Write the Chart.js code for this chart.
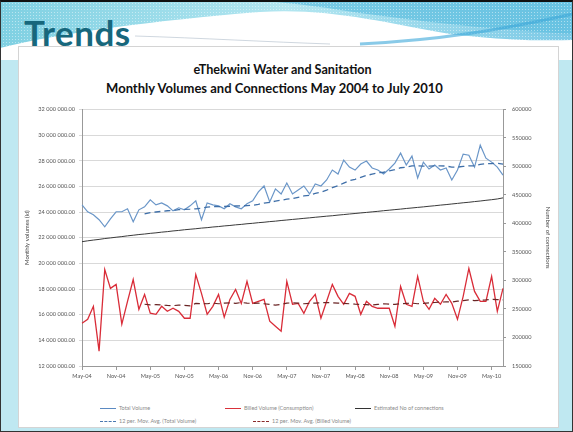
<!DOCTYPE html>
<html><head><meta charset="utf-8">
<script src="https://cdn.jsdelivr.net/npm/chart.js@4.4.0/dist/chart.umd.min.js"></script>
<style>
html,body{margin:0;padding:0;}
body{width:573px;height:432px;position:relative;overflow:hidden;background:#bfe8f1;font-family:Lato,"Open Sans",sans-serif;}
#hdr{position:absolute;left:0;top:0;}
#frame{position:absolute;left:0;top:0;border:1px solid #333;border-top:2px solid #111;box-sizing:border-box;width:573px;height:432px;pointer-events:none;}
#panel{position:absolute;left:18px;top:46px;width:541px;height:382px;background:#fff;border:1px solid #d4d4d4;box-sizing:border-box;}
#trends{position:absolute;left:24px;top:11px;font:bold 35px Lato,"Open Sans",sans-serif;color:#17677c;letter-spacing:0.5px;}
.t{position:absolute;width:541px;text-align:center;font-weight:bold;color:#111;}
#t1{left:12px;top:62px;font-size:12.6px;}
#t2{left:4px;top:80px;font-size:13px;}
#wrap{position:absolute;left:18px;top:100px;width:540px;height:292px;}
.lg{position:absolute;font-size:5.5px;color:#8a8a8a;white-space:nowrap;}
.lg i{display:inline-block;width:16px;height:0;border-top:1px solid;vertical-align:middle;margin-right:3px;}
</style></head><body>
<svg id="hdr" width="573" height="60">
<defs>
<linearGradient id="g1" x1="0" x2="1" y1="0" y2="0"><stop offset="0" stop-color="#7fd0e2"/><stop offset="0.5" stop-color="#b3e6f0"/><stop offset="1" stop-color="#7cc9e6"/></linearGradient>
<pattern id="dots" width="3" height="3" patternUnits="userSpaceOnUse"><rect width="3" height="3" fill="none"/><rect width="1" height="1" fill="#ffffff" opacity="0.45"/></pattern>
</defs>
<rect width="573" height="60" fill="url(#g1)"/>
<path d="M240,0 L573,0 L573,34 C500,30 420,22 340,10 C300,4 270,1 240,0 Z" fill="#5fbfe0" opacity="0.7"/>
<rect width="573" height="60" fill="url(#dots)"/>
<path d="M0,48 C60,33 160,20 260,12 C330,8 380,22 450,34 C500,40 540,41 573,40 L573,60 L0,60 Z" fill="#ffffff"/>
<path d="M360,44 C440,40 500,30 573,14" stroke="#3aa7d9" stroke-width="3" fill="none" opacity="0.6"/>
<path d="M135,36 C200,38 270,42 330,44" stroke="#9ab" stroke-width="0.8" fill="none" opacity="0.6"/>
</svg>
<div id="panel"></div>
<div id="trends">Trends</div>
<div class="t" id="t1">eThekwini Water and Sanitation</div>
<div class="t" id="t2">Monthly Volumes and Connections May 2004 to July 2010</div>
<div id="wrap"><canvas id="c" width="540" height="292"></canvas></div>
<div class="lg" style="left:100px;top:405px"><i style="border-color:#5b8ac2"></i>Total Volume</div>
<div class="lg" style="left:225px;top:405px"><i style="border-color:#d9313a"></i>Billed Volume (Consumption)</div>
<div class="lg" style="left:355px;top:405px"><i style="border-color:#333"></i>Estimated No of connections</div>
<div class="lg" style="left:100px;top:418px"><i style="border-color:#4a78b0;border-top-style:dashed"></i>12 per. Mov. Avg. (Total Volume)</div>
<div class="lg" style="left:253px;top:418px"><i style="border-color:#8a2a2a;border-top-style:dashed"></i>12 per. Mov. Avg. (Billed Volume)</div>
<div id="frame"></div>
<script>
const months = [
 "May-04","Jun-04","Jul-04","Aug-04","Sep-04","Oct-04","Nov-04","Dec-04",
 "Jan-05","Feb-05","Mar-05","Apr-05","May-05","Jun-05","Jul-05","Aug-05","Sep-05","Oct-05","Nov-05","Dec-05",
 "Jan-06","Feb-06","Mar-06","Apr-06","May-06","Jun-06","Jul-06","Aug-06","Sep-06","Oct-06","Nov-06","Dec-06",
 "Jan-07","Feb-07","Mar-07","Apr-07","May-07","Jun-07","Jul-07","Aug-07","Sep-07","Oct-07","Nov-07","Dec-07",
 "Jan-08","Feb-08","Mar-08","Apr-08","May-08","Jun-08","Jul-08","Aug-08","Sep-08","Oct-08","Nov-08","Dec-08",
 "Jan-09","Feb-09","Mar-09","Apr-09","May-09","Jun-09","Jul-09","Aug-09","Sep-09","Oct-09","Nov-09","Dec-09",
 "Jan-10","Feb-10","Mar-10","Apr-10","May-10","Jun-10","Jul-10"];
const shownTicks = ["May-04","Nov-04","May-05","Nov-05","May-06","Nov-06","May-07","Nov-07","May-08","Nov-08","May-09","Nov-09","May-10"];
// millions of kl
const totalVolume = [
 24.56,24.02,23.78,23.40,22.85,23.47,24.02,24.02,24.25,23.24,
 24.17,24.40,24.95,24.56,24.71,24.48,24.09,24.33,24.17,24.48,
 24.87,23.40,24.71,24.56,24.48,24.25,24.64,24.40,24.25,24.64,
 24.87,25.57,26.03,24.79,25.80,25.41,26.26,25.41,25.72,26.03,
 25.41,26.19,26.03,26.50,27.27,26.96,28.05,27.50,27.27,27.74,
 27.97,27.43,27.27,26.96,27.35,27.81,28.59,27.66,28.36,26.65,
 27.89,27.35,27.66,27.27,27.43,26.50,27.27,28.51,28.43,27.50,
 29.21,28.20,27.89,27.50,26.88];
const billedVolume = [
 15.33,15.64,16.65,13.16,19.52,18.05,18.36,15.26,17.04,18.74,
 16.42,17.58,16.11,16.03,16.65,16.26,16.50,16.26,15.72,15.72,
 19.13,17.66,16.03,16.65,17.58,15.80,17.19,17.97,16.88,18.59,
 16.88,17.04,17.19,15.49,15.10,14.71,18.59,16.81,16.88,16.11,
 17.04,17.58,15.72,17.04,18.36,17.43,16.81,17.66,17.43,16.03,
 17.04,16.65,16.50,16.50,16.50,15.10,18.20,16.81,16.65,18.98,
 17.04,16.42,17.27,16.81,17.58,16.88,15.64,17.43,19.60,17.81,
 17.04,17.04,18.98,16.26,18.05];
const connections = [
 368000,369500,370800,372000,373500,374600,375800,376900,378200,379300,
 380500,381400,382600,383500,384700,385600,386800,387700,388900,389800,
 390700,391800,392600,393700,394500,395600,396400,397500,398300,399400,
 400200,401300,402100,403200,404000,405100,406000,407000,407900,408900,
 409800,410800,411700,412700,413500,414600,415500,416500,417400,418400,
 419300,420300,421200,422300,423200,424200,425100,426200,427100,428100,
 429000,430100,431000,432100,433000,434100,435100,436200,437100,438300,
 439300,440500,441600,442900,444800];
const totalVolumeMA = [null,null,null,null,null,null,null,null,null,null,null,
 23.85,23.95,24.00,24.05,24.10,24.12,24.18,24.20,24.22,24.25,24.30,24.38,24.42,
 24.42,24.43,24.45,24.47,24.48,24.50,24.52,24.60,24.70,24.75,24.85,24.92,
 25.00,25.05,25.15,25.25,25.30,25.45,25.55,25.70,25.90,26.05,26.25,26.44,
 26.55,26.70,26.85,26.95,27.05,27.10,27.20,27.30,27.45,27.50,27.60,27.59,
 27.58,27.57,27.60,27.60,27.58,27.50,27.50,27.55,27.60,27.60,27.72,27.77,
 27.78,27.80,27.73];
const billedVolumeMA = [null,null,null,null,null,null,null,null,null,null,null,
 16.81,16.76,16.78,16.75,16.72,16.70,16.75,16.72,16.68,16.88,
 16.86,16.85,16.90,16.85,16.90,16.92,16.88,16.95,16.90,16.88,
 16.90,16.85,16.80,16.75,16.80,16.90,16.92,16.90,16.85,16.88,
 16.90,16.92,16.95,16.92,16.90,16.88,16.85,16.82,16.80,16.78,
 16.75,16.80,16.85,16.82,16.80,16.85,16.88,16.90,16.85,16.88,
 16.92,16.95,16.98,17.00,16.98,17.05,17.10,17.15,17.10,17.12,
 17.15,17.20,17.18,17.15].slice(0,75);

const M = 1000000;
const tickFont = {family:'Lato, "Open Sans", sans-serif', size:5.6};
const line = (label,data,color,axis,extra)=>Object.assign({label,data:data,borderColor:color,backgroundColor:color,yAxisID:axis,borderWidth:1.2,pointRadius:0,tension:0,fill:false,spanGaps:false},extra||{});

new Chart(document.getElementById('c'),{
 type:'line',
 data:{labels:months,datasets:[
  line('Estimated No of connections',connections,'#3a3a3a','y2',{borderWidth:1}),
  line('12 per. Mov. Avg. (Total Volume)',totalVolumeMA.map(v=>v==null?null:v*M),'#3f6fa8','y',{borderDash:[6,4],borderWidth:1.3}),
  line('12 per. Mov. Avg. (Billed Volume)',billedVolumeMA.map(v=>v==null?null:v*M),'#6a2424','y',{borderDash:[6,4],borderWidth:1.2}),
  line('Total Volume',totalVolume.map(v=>v*M),'#6a96c8','y'),
  line('Billed Volume (Consumption)',billedVolume.map(v=>v*M),'#d92c38','y',{borderWidth:1.3})
 ]},
 options:{
  responsive:false,animation:false,devicePixelRatio:1,
  layout:{padding:{top:7,left:0,right:0,bottom:0}},
  plugins:{legend:{display:false},tooltip:{enabled:false}},
  scales:{
   x:{type:'category',offset:false,
     grid:{display:true,drawOnChartArea:false,color:'#999',tickLength:4},
     border:{color:'#999'},
     ticks:{autoSkip:false,maxRotation:0,minRotation:0,color:'#555',font:tickFont,padding:3,
       callback:function(v,i){const l=months[i];return shownTicks.includes(l)?l:null;}},
     afterFit:s=>{s.height=26;}},
   y:{position:'left',min:12*M,max:32*M,
     ticks:{stepSize:2*M,color:'#555',font:tickFont,padding:4,
       callback:v=>{const s=Math.round(v).toString();return s.slice(0,s.length-6)+' '+s.slice(-6,-3)+' '+s.slice(-3)+'.00';}},
     grid:{color:'#d9d9d9',tickLength:3},border:{color:'#999'},
     title:{display:true,text:'Monthly volumes (kl)',color:'#444',font:{family:'Lato, sans-serif',size:6},padding:{top:5,bottom:0}},
     afterFit:s=>{s.width=64;}},
   y2:{position:'right',min:150000,max:600000,
     ticks:{stepSize:50000,color:'#555',font:tickFont,padding:6,callback:v=>String(v)},
     grid:{drawOnChartArea:false,color:'#999',tickLength:3},border:{color:'#999'},
     title:{display:true,text:'Number of connections',color:'#444',font:{family:'Lato, sans-serif',size:6},padding:{top:6,bottom:0}},
     afterFit:s=>{s.width=55;}}
  }
 }
});
</script>
</body></html>
